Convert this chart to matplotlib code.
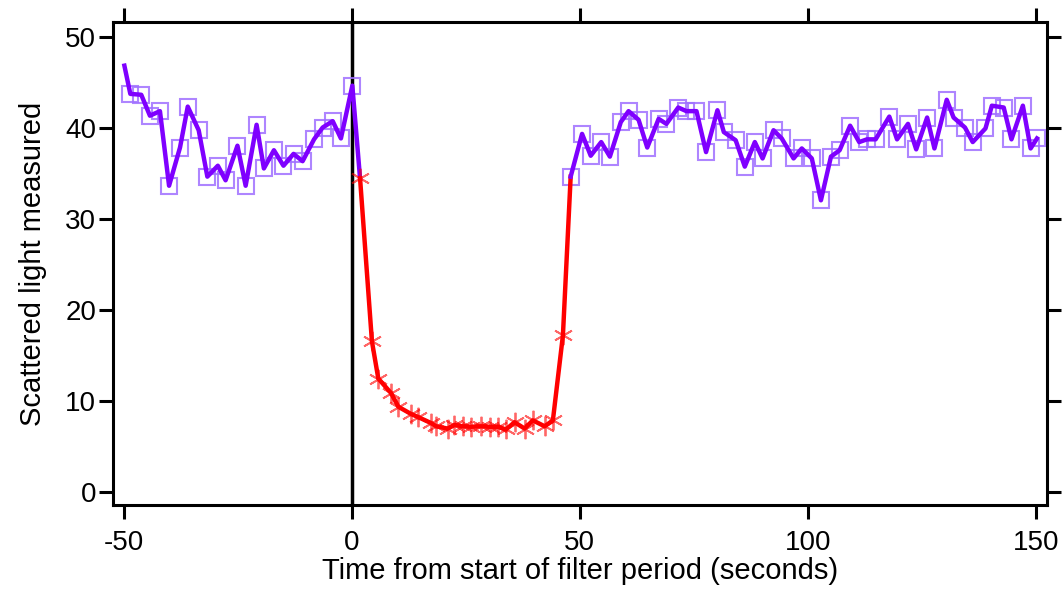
import matplotlib
matplotlib.use("Agg")
import matplotlib.pyplot as plt

# purple trace before the filter period
pre_t = [-49.9, -48.6, -46.2, -44.3, -42.1, -40.1, -37.7, -36.0, -33.6, -31.7,
         -29.4, -27.7, -25.1, -23.3, -20.9, -19.3, -17.1, -15.0, -12.8, -10.8,
         -8.3, -6.4, -4.2, -2.4, 0.1]
pre_v = [46.9, 43.8, 43.7, 41.4, 41.9, 33.7, 37.9, 42.4, 39.8, 34.7,
         35.9, 34.3, 38.1, 33.7, 40.4, 35.6, 37.6, 35.9, 37.2, 36.4,
         38.8, 40.1, 40.8, 38.9, 44.7]

# red trace during the filter period
filt_t = [1.8, 4.4, 5.8, 8.6, 10.2, 13.0, 14.4, 17.4, 18.5, 21.0, 22.5, 24.3,
          26.2, 28.4, 30.2, 32.0, 33.8, 35.7, 37.9, 39.7, 42.3, 44.1, 46.3]
filt_v = [34.5, 16.6, 12.5, 10.9, 9.4, 8.6, 8.3, 7.6, 7.25, 7.0, 7.4, 7.25,
          7.2, 7.25, 7.2, 7.2, 6.9, 7.7, 7.0, 7.9, 7.25, 7.9, 17.25]

# purple trace after the filter period
post_t = [48.0, 50.5, 52.4, 54.7, 56.6, 59.0, 60.7, 62.9, 64.8, 67.3,
          69.0, 71.6, 73.4, 75.6, 77.7, 80.2, 81.6, 84.2, 86.2, 88.4,
          90.1, 92.5, 94.3, 96.9, 98.7, 100.9, 102.9, 105.1, 107.0, 109.3,
          111.3, 113.0, 114.9, 117.9, 119.6, 122.0, 123.8, 126.2, 127.8, 130.5,
          132.0, 134.5, 136.2, 139.0, 140.4, 143.0, 144.7, 147.2, 148.9, 150.3]
post_v = [34.7, 39.4, 37.0, 38.5, 36.9, 40.7, 41.9, 40.95, 37.9, 41.05,
          40.5, 42.3, 41.9, 41.9, 37.4, 42.0, 39.6, 38.7, 35.8, 38.5,
          36.7, 39.8, 38.9, 36.7, 37.8, 36.7, 32.1, 36.9, 37.6, 40.3,
          38.5, 38.8, 38.8, 41.3, 38.8, 40.5, 37.7, 41.2, 37.8, 43.15,
          41.2, 40.1, 38.5, 40.0, 42.5, 42.3, 38.8, 42.5, 37.8, 38.9]

x_ticks = [-50, 0, 50, 100, 150]
y_ticks = [0, 10, 20, 30, 40, 50]

PURPLE = "#7f00ff"
PURPLE_MK = "#a070ff"
RED = "#ff0000"
ASTERISK = (6, 2, 0)

plt.rcParams["font.family"] = ["Liberation Sans", "DejaVu Sans"]
plt.rcParams["axes.unicode_minus"] = False

fig = plt.figure(figsize=(10.62, 5.95), dpi=100)
ax = fig.add_axes([0.1064, 0.1513, 0.8795, 0.8117])

# segments take the colour of the point they start from
ax.plot(pre_t + filt_t[:1], pre_v + filt_v[:1], color=PURPLE, lw=3.2, zorder=3,
        solid_joinstyle="round")
ax.plot(filt_t + post_t[:1], filt_v + post_v[:1], color=RED, lw=3.2, zorder=3,
        solid_joinstyle="round")
ax.plot(post_t, post_v, color=PURPLE, lw=3.2, zorder=3, solid_joinstyle="round")

ax.plot(pre_t[1:], pre_v[1:], ls="none", marker="s", ms=12, mfc="none",
        mec=PURPLE_MK, mew=1.5, alpha=0.85, zorder=2)
ax.plot(post_t, post_v, ls="none", marker="s", ms=12, mfc="none",
        mec=PURPLE_MK, mew=1.5, alpha=0.85, zorder=2)
ax.plot(filt_t, filt_v, ls="none", marker=ASTERISK, ms=14, mfc="none",
        mec=RED, mew=1.3, alpha=0.6, zorder=4)

ax.axvline(0, color="black", lw=2.5, zorder=1)

ax.set_xlim(-52.4, 152.5)
ax.set_ylim(-1.4, 51.7)
ax.set_xticks(x_ticks)
ax.set_yticks(y_ticks)
for s in ax.spines.values():
    s.set_linewidth(2.2)
ax.tick_params(direction="out", length=10, width=2.2, top=True, right=True,
               labelsize=20)
ax.tick_params(axis="x", pad=8)
ax.tick_params(axis="y", pad=2)

ax.set_xlabel("Time from start of filter period (seconds)", fontsize=21, labelpad=1)
ax.set_ylabel("Scattered light measured", fontsize=21, labelpad=13)

fig.savefig("out.png", dpi=100)
